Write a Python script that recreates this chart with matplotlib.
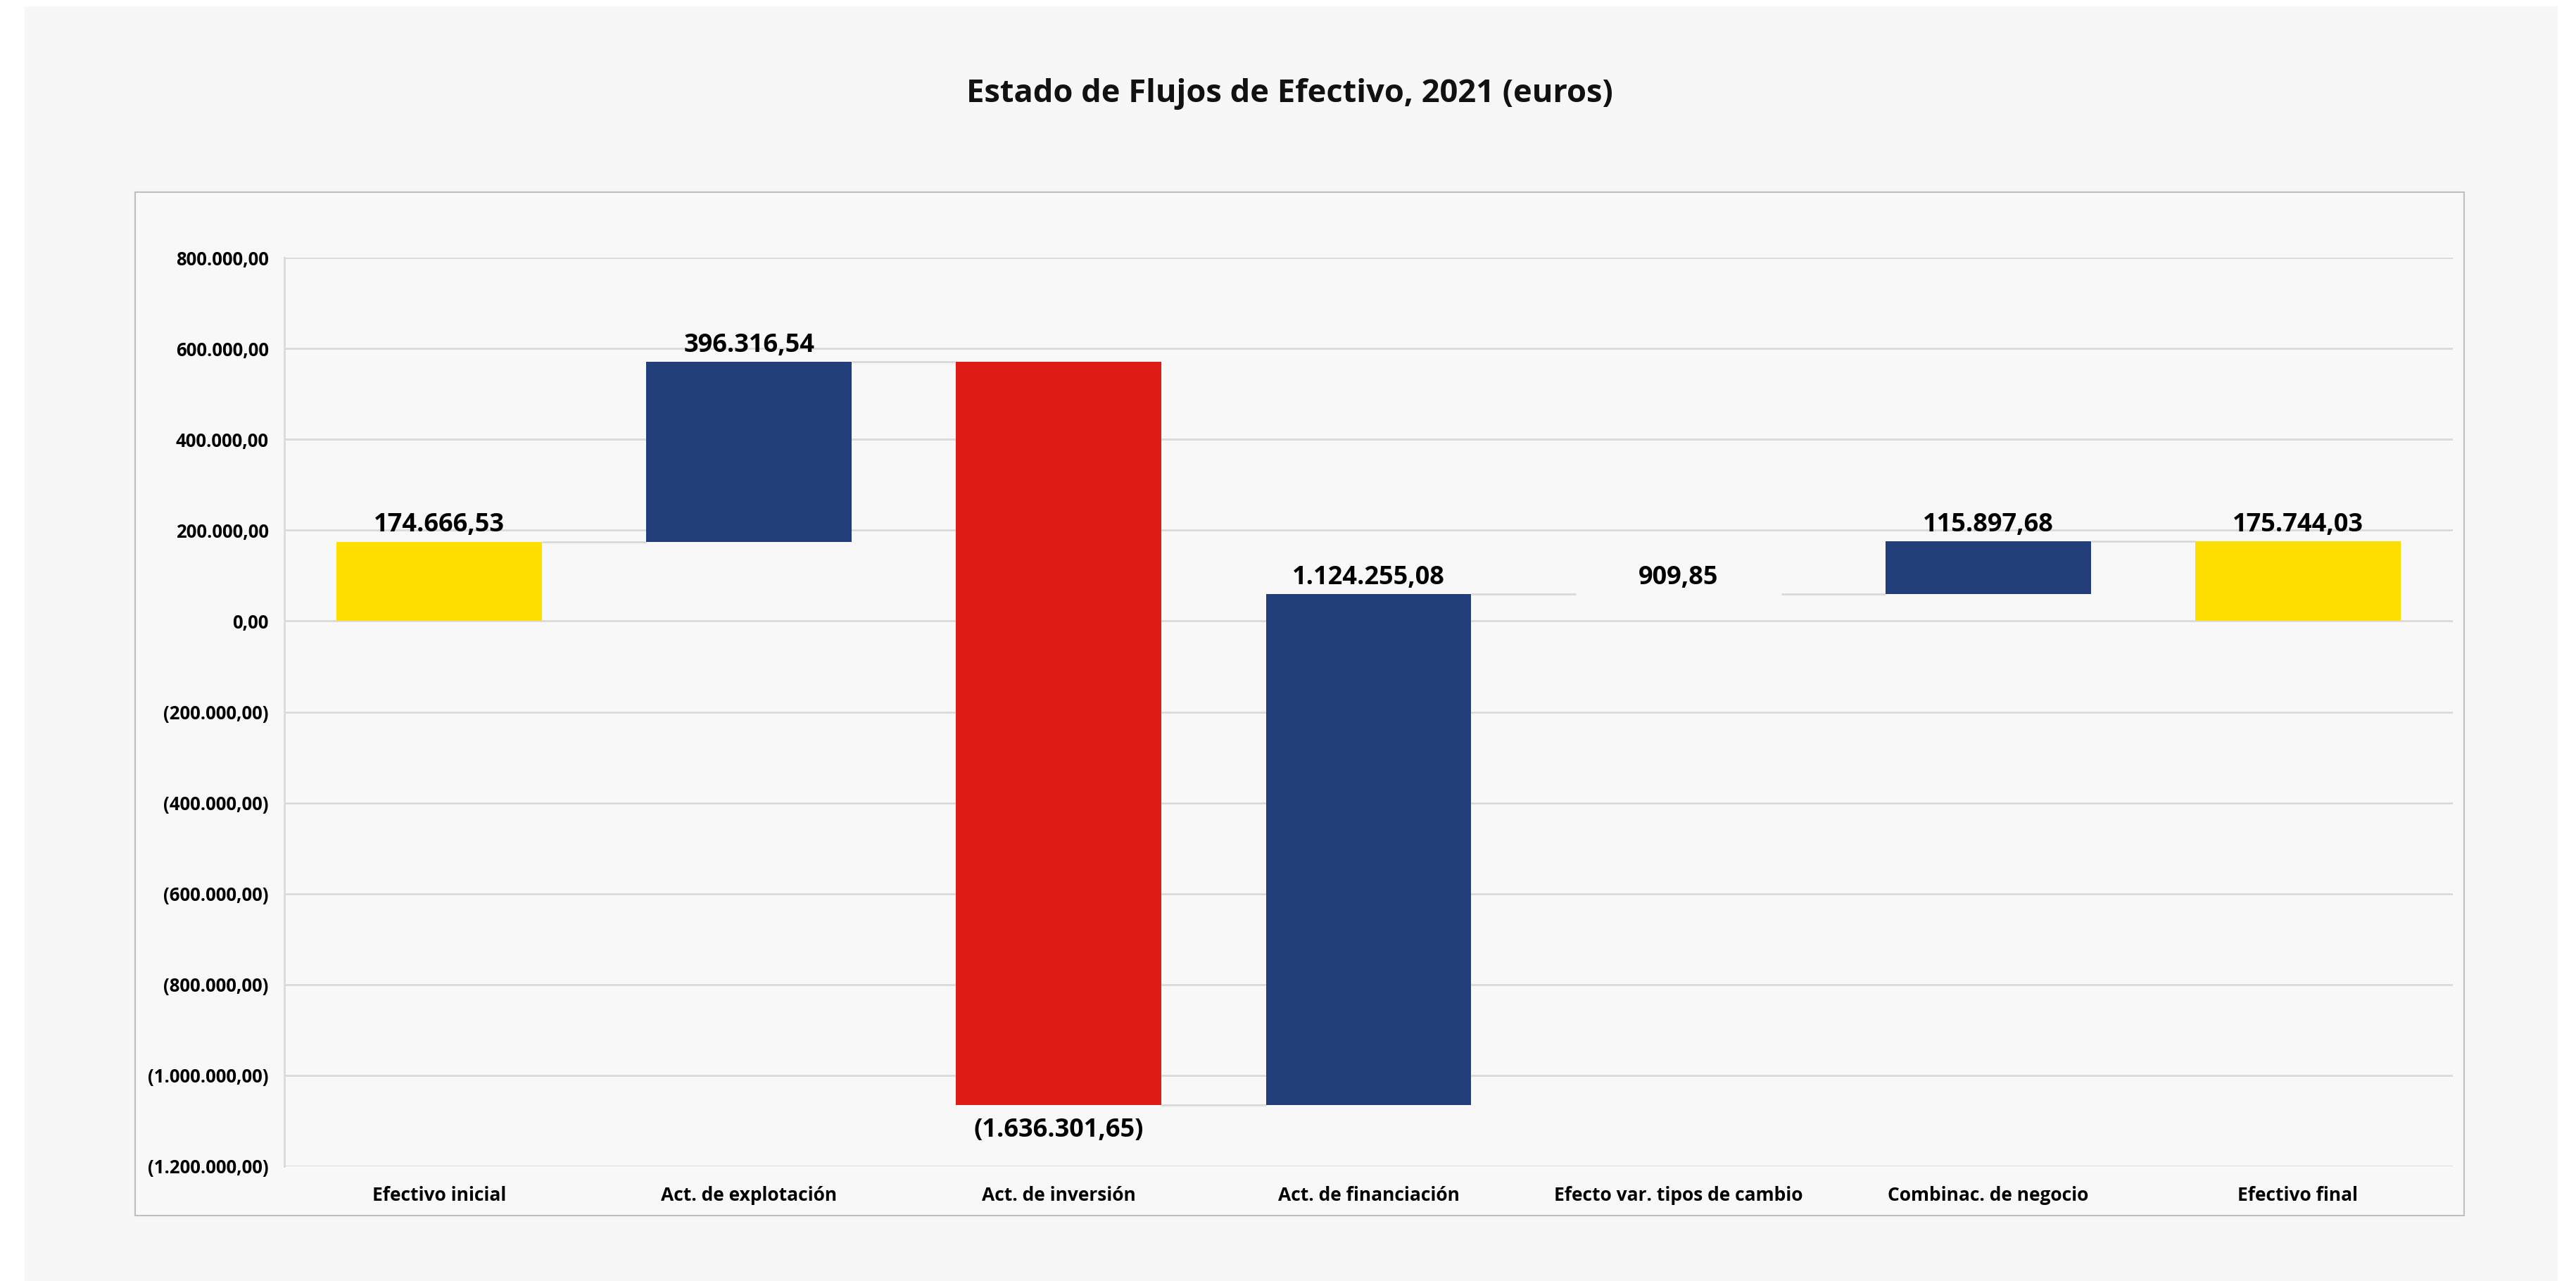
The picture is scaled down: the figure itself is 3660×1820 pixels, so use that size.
import matplotlib
matplotlib.use("Agg")
import matplotlib.pyplot as plt
from matplotlib.patches import Rectangle
from matplotlib.ticker import FuncFormatter

categories = ["Efectivo inicial", "Act. de explotación", "Act. de inversión",
              "Act. de financiación", "Efecto var. tipos de cambio",
              "Combinac. de negocio", "Efectivo final"]
values = [174666.53, 396316.54, -1636301.65, 1124255.08, 909.85, 115897.68, 175744.03]
kinds = ["total", "delta", "delta", "delta", "delta", "delta", "total"]
yticks = [800000, 600000, 400000, 200000, 0, -200000, -400000, -600000,
          -800000, -1000000, -1200000]

YELLOW = "#FFDE00"
NAVY = "#213D7A"
RED = "#DF1B15"

plt.rcParams['font.family'] = ['Open Sans', 'DejaVu Sans']

def es_fmt(v, dec=2):
    neg = v < 0
    s = f"{abs(v):,.{dec}f}"
    s = s.replace(",", "X").replace(".", ",").replace("X", ".")
    return f"({s})" if neg else s

W, H = 3660, 1820
fig = plt.figure(figsize=(W / 100, H / 100), dpi=100, facecolor="white")

# outer panel
fig.patches.append(Rectangle((35 / W, 0), (3634 - 35) / W, (H - 9) / H,
                             transform=fig.transFigure, facecolor="#F7F7F7",
                             edgecolor="none", zorder=-20))
# inner chart border
fig.patches.append(Rectangle((192 / W, (H - 1727) / H), (3501 - 192) / W, (1727 - 273) / H,
                             transform=fig.transFigure, facecolor="#F8F8F8",
                             edgecolor="#BFBFBF", linewidth=1.5, zorder=-10))

fig.text(1832 / W, 1 - 133 / H, "Estado de Flujos de Efectivo, 2021 (euros)",
         ha="center", va="center", fontsize=32.6, fontweight="bold", color="#111111")

ax = fig.add_axes([404 / W, (H - 1657) / H, (3485 - 404) / W, (1657 - 366) / H])
ax.set_zorder(5)
ax.set_facecolor("none")

bw = 0.663
running = 0.0
bottoms, heights, colors = [], [], []
for v, k in zip(values, kinds):
    if k == "total":
        b, h = 0.0, v
        running = v
        c = YELLOW
    else:
        b, h = running, v
        running = running + v
        c = NAVY if v >= 0 else RED
    bottoms.append(b)
    heights.append(h)
    colors.append(c)

xs = list(range(len(categories)))
ax.bar(xs, heights, bottom=bottoms, width=bw, color=colors, edgecolor="none", zorder=3)

# connectors
for i in range(len(values) - 1):
    level = bottoms[i] + heights[i]
    ax.plot([i + bw / 2, i + 1 - bw / 2], [level, level], color="#D9D9D9",
            linewidth=2, zorder=2, solid_capstyle="butt")

# data labels
for i, (b, h, v) in enumerate(zip(bottoms, heights, values)):
    if v >= 0:
        ax.text(i, b + h + 8000, es_fmt(v), ha="center", va="bottom",
                fontsize=26, fontweight="bold", color="black", zorder=5)
    else:
        ax.text(i, b + h - 28000, es_fmt(v), ha="center", va="top",
                fontsize=26, fontweight="bold", color="black", zorder=5)

ax.set_xlim(-0.5, len(categories) - 0.5)
ax.set_ylim(-1200000, 800000)
ax.set_yticks(yticks)
ax.yaxis.set_major_formatter(FuncFormatter(lambda v, p: es_fmt(v)))
ax.set_xticks(xs)
ax.set_xticklabels(categories)
ax.grid(axis="y", color="#DADADA", linewidth=2, zorder=0)
ax.set_axisbelow(True)
for s in ["top", "right", "bottom"]:
    ax.spines[s].set_visible(False)
ax.spines["left"].set_color("#DADADA")
ax.spines["left"].set_linewidth(2)
ax.tick_params(axis="y", length=0, labelsize=18.5, labelcolor="black", pad=16)
ax.tick_params(axis="x", length=0, labelsize=19, labelcolor="black", pad=20)
for lab in ax.get_xticklabels() + ax.get_yticklabels():
    lab.set_fontweight("bold")

fig.savefig("out.png", dpi=100, facecolor="white")
